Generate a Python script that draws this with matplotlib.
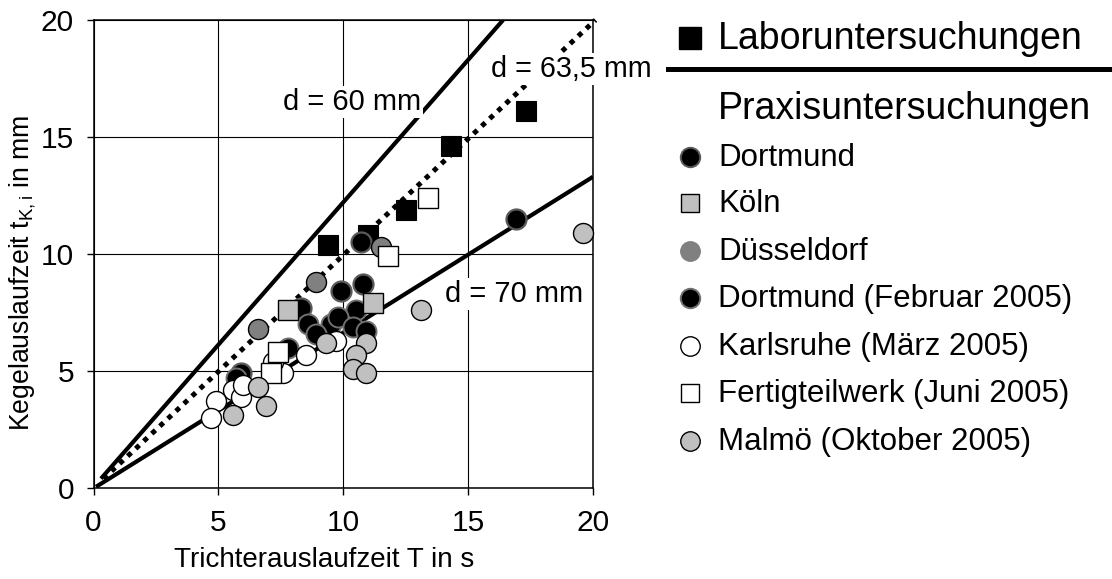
import matplotlib
matplotlib.use("Agg")
import matplotlib.pyplot as plt
from matplotlib.lines import Line2D

plt.rcParams['font.family'] = ['Liberation Sans', 'DejaVu Sans']
plt.rcParams['mathtext.fontset'] = 'custom'
plt.rcParams['mathtext.rm'] = 'Liberation Sans'
plt.rcParams['mathtext.it'] = 'Liberation Sans:italic'

# --- measurements: funnel flow time T [s] vs. cone flow time t_K,i ---
labor_T = [9.4, 11.0, 12.5, 14.3, 17.3]
labor_t = [10.4, 10.8, 11.9, 14.6, 16.1]

dortmund_T = [16.9, 10.7, 9.9, 10.8, 8.3, 5.9]
dortmund_t = [11.5, 10.5, 8.4, 8.7, 7.7, 4.9]

koeln_T = [7.8, 11.2]
koeln_t = [7.6, 7.9]

duesseldorf_T = [6.6, 8.9, 11.5]
duesseldorf_t = [6.8, 8.8, 10.3]

dortmund_feb_T = [10.5, 8.6, 9.5, 9.8, 10.4, 10.9, 8.9, 7.8, 5.7]
dortmund_feb_t = [7.6, 7.0, 7.0, 7.3, 6.9, 6.7, 6.6, 6.0, 4.7]

karlsruhe_T = [8.5, 9.7, 7.6, 7.2, 5.6, 5.9, 4.9, 4.7, 6.0]
karlsruhe_t = [5.7, 6.3, 4.9, 5.4, 4.2, 3.9, 3.7, 3.0, 4.4]

fertigteil_T = [7.1, 7.4, 11.8, 13.4]
fertigteil_t = [4.9, 5.8, 9.9, 12.4]

malmoe_T = [13.1, 9.3, 10.9, 10.5, 10.4, 10.9, 6.6, 6.9, 5.6, 19.6]
malmoe_t = [7.6, 6.2, 6.2, 5.7, 5.1, 4.9, 4.3, 3.5, 3.1, 10.9]

# reference lines for the funnel outlet diameter d
d60_T = [0.3, 16.4]
d60_t = [0.4, 20.0]
d635_T = [0.4, 20.1]
d635_t = [0.4, 20.0]
d70_T = [0.1, 20.0]
d70_t = [0.05, 13.3]

xticks = [0, 5, 10, 15, 20]
yticks = [0, 5, 10, 15, 20]

W, H = 1112, 579
fig = plt.figure(figsize=(W / 100, H / 100), dpi=100)
ax = fig.add_axes([93.5 / W, 1 - 488 / H, 499.5 / W, 468 / H])

ax.set_xlim(0, 20)
ax.set_ylim(0, 20)
ax.set_xticks(xticks)
ax.set_yticks(yticks)
ax.grid(True, color='black', linewidth=0.8)
ax.set_axisbelow(True)
for s in ax.spines.values():
    s.set_linewidth(1.1)
ax.tick_params(direction='out', length=5, width=1.0, labelsize=21.5)
ax.tick_params(axis='x', pad=10)
ax.tick_params(axis='y', pad=9)

ax.set_xlabel('Trichterauslaufzeit T in s', fontsize=20)
ax.set_ylabel(r'Kegelauslaufzeit t$_{\mathrm{K,i}}$ in mm', fontsize=19.2)
ax.xaxis.set_label_coords(0.4625, -0.126)
ax.yaxis.set_label_coords(-0.111, 0.46)

# lines
ax.plot(d60_T, d60_t, color='black', lw=3.0, solid_capstyle='butt', zorder=2)
ax.plot(d70_T, d70_t, color='black', lw=3.0, solid_capstyle='butt', zorder=2)
ax.plot(d635_T, d635_t, color='black', lw=3.6, linestyle=(0, (1, 1.2)),
        dash_capstyle='butt', zorder=2, clip_on=False)

box = dict(facecolor='white', edgecolor='none', pad=1.5)
ax.text(10.35, 16.5, 'd = 60 mm', fontsize=21, ha='center', va='center', bbox=box, zorder=3)
ax.text(19.15, 17.9, 'd = 63,5 mm', fontsize=20.7, ha='center', va='center', bbox=box,
        zorder=6, clip_on=False)
ax.text(16.85, 8.3, 'd = 70 mm', fontsize=21, ha='center', va='center', bbox=box, zorder=3)

ms = 14.4
def series(x, y, marker, face, edge, ew, z):
    ax.plot(x, y, linestyle='none', marker=marker, markersize=ms,
            markerfacecolor=face, markeredgecolor=edge, markeredgewidth=ew,
            zorder=z, clip_on=False)

series(labor_T, labor_t, 's', 'black', 'black', 0.8, 4)
series(dortmund_T, dortmund_t, 'o', 'black', '#5a5a5a', 1.6, 5)
series(dortmund_feb_T, dortmund_feb_t, 'o', 'black', '#707070', 1.4, 5)
series(koeln_T, koeln_t, 's', '#c0c0c0', 'black', 1.0, 5)
series(duesseldorf_T, duesseldorf_t, 'o', '#808080', 'black', 1.0, 5)
series(karlsruhe_T, karlsruhe_t, 'o', 'white', 'black', 1.0, 5)
series(fertigteil_T, fertigteil_t, 's', 'white', 'black', 1.0, 5)
series(malmoe_T, malmoe_t, 'o', '#c0c0c0', 'black', 1.0, 5)

# legend panel in pixel coordinates
lg = fig.add_axes([0, 0, 1, 1], zorder=10)
lg.set_xlim(0, W)
lg.set_ylim(H, 0)
lg.axis('off')
lg.patch.set_alpha(0)

mx, tx = 690, 718
lg.plot([mx], [38], marker='s', markersize=15.5, color='black', linestyle='none')
lg.text(tx, 39, 'Laboruntersuchungen', fontsize=27, va='center', ha='left')
lg.add_line(Line2D([668, W], [69, 69], color='black', lw=3.6))
lg.text(tx, 109, 'Praxisuntersuchungen', fontsize=27, va='center', ha='left')

entries = [
    (157, 'Dortmund', 'o', 'black', '#5a5a5a', 1.4),
    (203, 'Köln', 's', '#c0c0c0', 'black', 1.0),
    (251, 'Düsseldorf', 'o', '#808080', '#808080', 1.0),
    (298, 'Dortmund (Februar 2005)', 'o', 'black', '#707070', 1.4),
    (346, 'Karlsruhe (März 2005)', 'o', 'white', 'black', 1.0),
    (393, 'Fertigteilwerk (Juni 2005)', 's', 'white', 'black', 1.0),
    (441, 'Malmö (Oktober 2005)', 'o', '#c0c0c0', 'black', 1.0),
]
for y, label, m, fc, ec, ew in entries:
    lg.plot([mx], [y], marker=m, markersize=14 if m == 'o' else 12.5,
            markerfacecolor=fc, markeredgecolor=ec, markeredgewidth=ew, linestyle='none')
    lg.text(tx, y + 1, label, fontsize=22.5, va='center', ha='left')

fig.savefig('out.png', dpi=100)
